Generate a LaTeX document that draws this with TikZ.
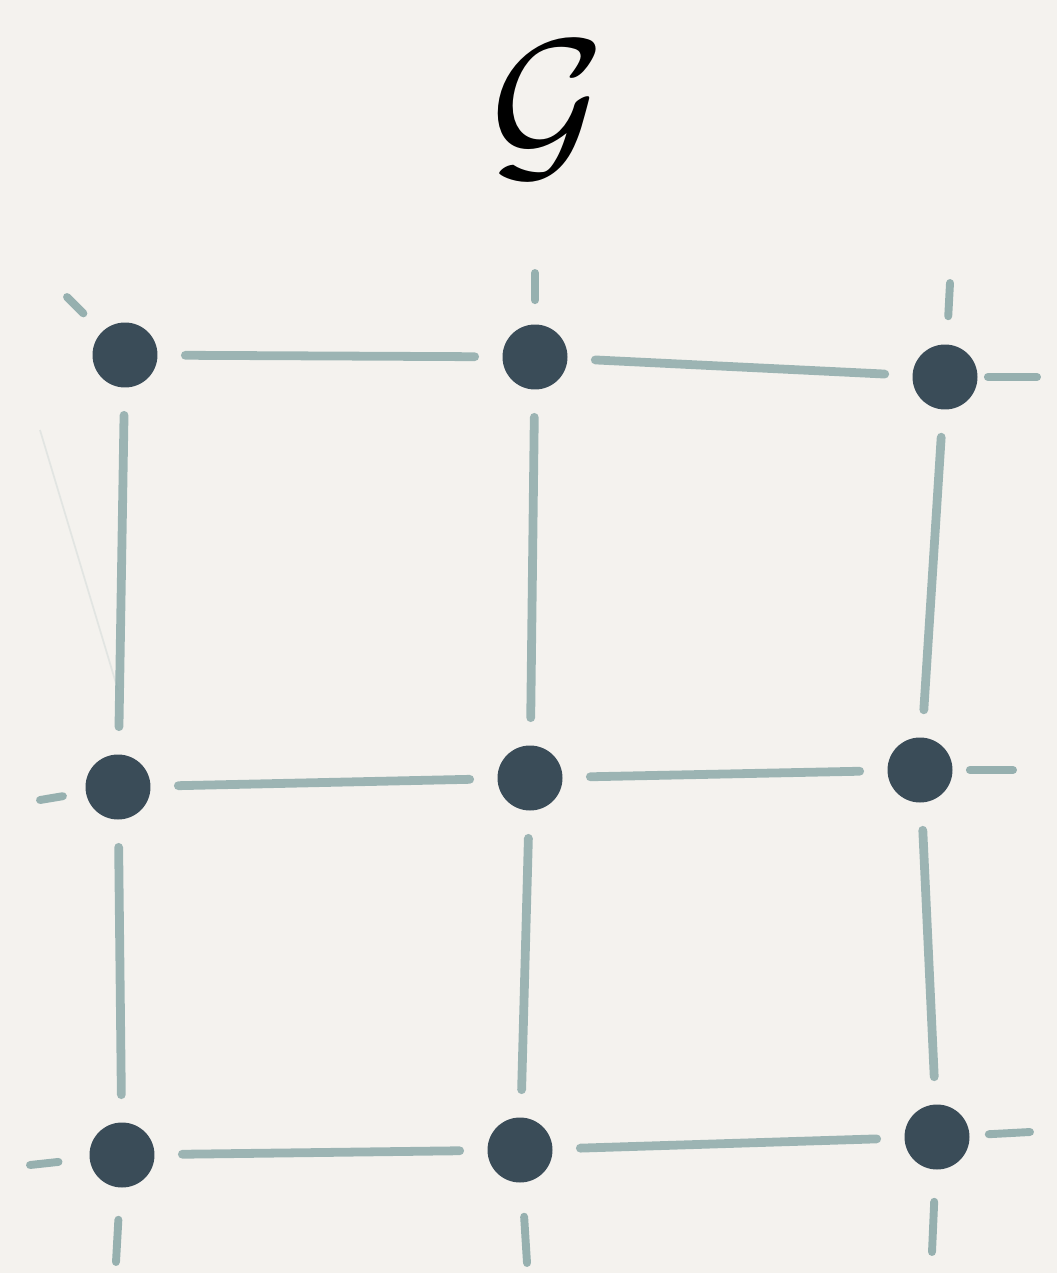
\documentclass[tikz,border=0pt]{standalone}
\usepackage{amsmath,amssymb}
\usepackage{xcolor}
\usepackage{tikz}
\usetikzlibrary{positioning}

\definecolor{paper}{HTML}{F4F2EE}
\definecolor{dotc}{HTML}{3A4C58}
\definecolor{edgec}{HTML}{7FA0A0}

\begin{document}
\begin{tikzpicture}[
  x=0.02cm, y=-0.02cm,
  vtx/.style={circle, fill=dotc, minimum size=1.3cm, inner sep=0pt},
  edg/.style={draw=edgec, line width=5pt, line cap=round, opacity=0.75,
              shorten <=0.55cm, shorten >=0.55cm},
  stub/.style={draw=edgec, line width=4.5pt, line cap=round, opacity=0.8}
]
\fill[paper] (0,0) rectangle (1057,1273);
\useasboundingbox (0,0) rectangle (1057,1273);

\node[inner sep=0pt] (title) at (548,110) {\scalebox{10}{$\mathcal{G}$}};

\node[vtx] (n11) at (125,355)  {};
\node[vtx] (n12) at (535,357)  {};
\node[vtx] (n13) at (945,377)  {};
\node[vtx] (n21) at (118,787)  {};
\node[vtx] (n22) at (530,778)  {};
\node[vtx] (n23) at (920,770)  {};
\node[vtx] (n31) at (122,1155) {};
\node[vtx] (n32) at (520,1150) {};
\node[vtx] (n33) at (937,1137) {};

% dangling ends
\coordinate (s11) at (67,297);
\coordinate (s12) at (535,273);
\coordinate (s13a) at (950,283);
\coordinate (s13b) at (1037,377);
\coordinate (s21) at (40,800);
\coordinate (s23) at (1013,770);
\coordinate (s31a) at (30,1165);
\coordinate (s31b) at (116,1262);
\coordinate (s32) at (527,1263);
\coordinate (s33a) at (1030,1132);
\coordinate (s33b) at (932,1252);

\draw[edg] (n11) -- (n12);
\draw[edg] (n12) -- (n13);
\draw[edg] (n21) -- (n22);
\draw[edg] (n22) -- (n23);
\draw[edg] (n31) -- (n32);
\draw[edg] (n32) -- (n33);
\draw[edg] (n11) -- (n21);
\draw[edg] (n21) -- (n31);
\draw[edg] (n12) -- (n22);
\draw[edg] (n22) -- (n32);
\draw[edg] (n13) -- (n23);
\draw[edg] (n23) -- (n33);

\draw[stub, shorten <=0.52cm] (n11) -- (s11);
\draw[stub, shorten <=0.48cm] (n12) -- (s12);
\draw[stub, shorten <=0.56cm] (n13) -- (s13a);
\draw[stub, shorten <=0.2cm]  (n13) -- (s13b);
\draw[stub, shorten <=0.46cm] (n21) -- (s21);
\draw[stub, shorten <=0.34cm] (n23) -- (s23);
\draw[stub, shorten <=0.62cm] (n31) -- (s31a);
\draw[stub, shorten <=0.64cm] (n31) -- (s31b);
\draw[stub, shorten <=0.68cm] (n32) -- (s32);
\draw[stub, shorten <=0.38cm] (n33) -- (s33a);
\draw[stub, shorten <=0.64cm] (n33) -- (s33b);

\draw[edgec, opacity=0.15, line width=1pt] (40,430) -- (118,690);
\end{tikzpicture}
\end{document}
